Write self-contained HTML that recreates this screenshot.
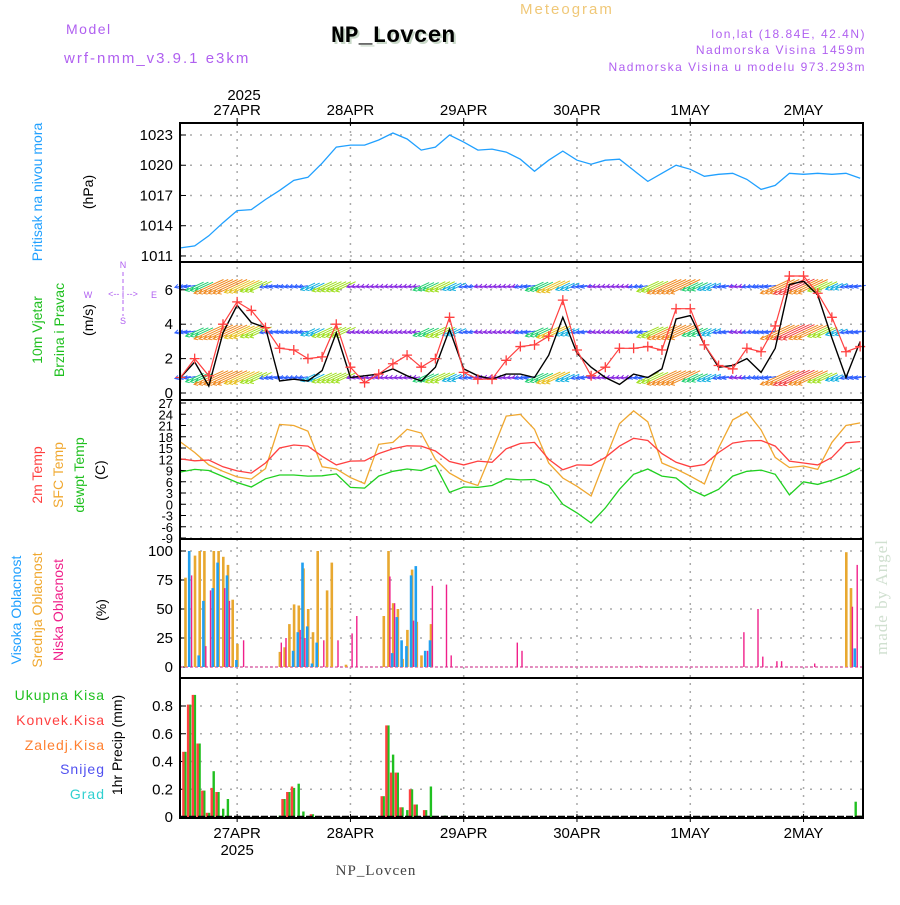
<!DOCTYPE html>
<html><head><meta charset="utf-8"><style>
html,body{margin:0;padding:0;background:#fff;}
</style></head><body>
<svg id="chart" xmlns="http://www.w3.org/2000/svg" width="900" height="900" viewBox="0 0 900 900" font-family="Liberation Sans, sans-serif">
<rect x="0" y="0" width="900" height="900" fill="#fff"/>
<g id="header">
<text x="66" y="34" font-size="14" fill="#b060f0" letter-spacing="1.5">Model</text>
<text x="64" y="63" font-size="15" fill="#b060f0" letter-spacing="2">wrf-nmm_v3.9.1 e3km</text>
<text x="333" y="44" font-size="23" font-weight="bold" fill="#c8d8c8" style="font-family:'Liberation Mono',monospace">NP_Lovcen</text>
<text x="331" y="42" font-size="23" font-weight="bold" fill="#000" style="font-family:'Liberation Mono',monospace">NP_Lovcen</text>
<text x="520" y="14" font-size="15" fill="#f0c878" letter-spacing="2">Meteogram</text>
<text x="866" y="38" font-size="12" fill="#b060f0" text-anchor="end" letter-spacing="1.5">lon,lat (18.84E, 42.4N)</text>
<text x="866" y="54" font-size="12" fill="#b060f0" text-anchor="end" letter-spacing="1.5">Nadmorska Visina 1459m</text>
<text x="866" y="71" font-size="12" fill="#b060f0" text-anchor="end" letter-spacing="1.5">Nadmorska Visina u modelu 973.293m</text>
<text x="244" y="100" font-size="15" fill="#000" text-anchor="middle">2025</text>
<text x="376" y="875" font-size="15" fill="#444" text-anchor="middle" style="font-family:'Liberation Serif',serif" letter-spacing="1">NP_Lovcen</text>
<text transform="translate(887,655) rotate(-90)" font-size="17" fill="#d0e0d0" style="font-family:'Liberation Serif',serif" letter-spacing="1">made by Angel</text>
</g>
<g id="ylabels">
<text transform="translate(42,192) rotate(-90)" font-size="14" fill="#20a0ff" text-anchor="middle">Pritisak na nivou mora</text>
<text transform="translate(93,192) rotate(-90)" font-size="14" fill="#000" text-anchor="middle">(hPa)</text>
<text transform="translate(42,330) rotate(-90)" font-size="14" fill="#20c020" text-anchor="middle">10m Vjetar</text>
<text transform="translate(64,330) rotate(-90)" font-size="14" fill="#20c020" text-anchor="middle">Brzina i Pravac</text>
<text transform="translate(93,320) rotate(-90)" font-size="14" fill="#000" text-anchor="middle">(m/s)</text>
<g fill="#b060f0" font-size="9">
<text x="123" y="268" text-anchor="middle">N</text>
<text x="123" y="324" text-anchor="middle">S</text>
<text x="88" y="298" text-anchor="middle">W</text>
<text x="154" y="298" text-anchor="middle">E</text>
<text x="123" y="297" text-anchor="middle">&lt;-- | --&gt;</text>
<line x1="123" y1="272" x2="123" y2="316" stroke="#b060f0" stroke-width="1" stroke-dasharray="4,3"/>
</g>
<text transform="translate(42,475) rotate(-90)" font-size="14" fill="#ff4040" text-anchor="middle">2m Temp</text>
<text transform="translate(63,475) rotate(-90)" font-size="14" fill="#f0a830" text-anchor="middle">SFC Temp</text>
<text transform="translate(84,475) rotate(-90)" font-size="14" fill="#20c020" text-anchor="middle">dewpt Temp</text>
<text transform="translate(105,470) rotate(-90)" font-size="14" fill="#000" text-anchor="middle">(C)</text>
<text transform="translate(21,610) rotate(-90)" font-size="14" fill="#20a0ff" text-anchor="middle">Visoka Oblacnost</text>
<text transform="translate(42,610) rotate(-90)" font-size="14" fill="#f0a830" text-anchor="middle">Srednja Oblacnost</text>
<text transform="translate(63,610) rotate(-90)" font-size="14" fill="#f0208a" text-anchor="middle">Niska Oblacnost</text>
<text transform="translate(106,610) rotate(-90)" font-size="14" fill="#000" text-anchor="middle">(%)</text>
<text x="105" y="700" font-size="14" fill="#20c020" text-anchor="end" letter-spacing="1">Ukupna  Kisa</text>
<text x="105" y="725" font-size="14" fill="#ff4040" text-anchor="end" letter-spacing="1">Konvek.Kisa</text>
<text x="105" y="750" font-size="14" fill="#ff8030" text-anchor="end" letter-spacing="1">Zaledj.Kisa</text>
<text x="105" y="774" font-size="14" fill="#5050f0" text-anchor="end" letter-spacing="1">Snijeg</text>
<text x="105" y="799" font-size="14" fill="#30d0d0" text-anchor="end" letter-spacing="1">Grad</text>
<text transform="translate(122,745) rotate(-90)" font-size="14" fill="#000" text-anchor="middle">1hr Precip (mm)</text>
</g>
<g id="grid"></g>
<g id="marks"></g>
<g id="frame"></g>
</svg>
<script>
// ---------- data (3-hourly from 26APR 12UTC, hour 0..144) ----------
const dayLabels = ["27APR","28APR","29APR","30APR","1MAY","2MAY"];
const dayHours = [12,36,60,84,108,132];
const pressure = [1011.8,1012.0,1013.0,1014.3,1015.5,1015.6,1016.6,1017.5,1018.5,1018.8,1020.2,1021.8,1022.0,1022.0,1022.5,1023.2,1022.6,1021.5,1021.8,1023.0,1022.3,1021.5,1021.6,1021.3,1020.6,1019.4,1020.5,1021.4,1020.5,1020.1,1020.5,1020.6,1019.5,1018.4,1019.2,1020.0,1019.6,1018.9,1019.1,1019.2,1018.6,1017.6,1018.0,1019.2,1019.1,1019.2,1019.1,1019.2,1018.7];
const windSpeed = [0.9,1.8,0.4,3.5,5.1,4.1,3.8,0.7,0.8,0.7,1.3,3.5,0.9,1.0,1.1,1.4,1.0,0.7,1.5,3.7,1.4,1.0,0.8,1.1,1.1,0.9,2.2,4.4,2.3,1.5,0.9,0.5,1.1,0.9,1.4,4.3,4.5,2.8,1.5,1.6,2.0,1.2,2.6,6.3,6.5,5.7,3.2,0.9,3.0];
const windGust = [0.9,2.0,1.0,4.0,5.3,4.8,3.8,2.6,2.5,2.0,2.1,4.0,1.5,0.6,1.1,1.7,2.2,1.5,2.0,4.4,1.2,0.8,0.8,1.9,2.7,2.8,3.3,5.4,2.5,1.0,1.5,2.6,2.6,2.7,2.5,4.9,4.9,2.8,1.6,1.4,2.6,2.4,3.9,6.8,6.8,5.8,4.4,2.4,2.7];
const arrowSpeed = [2,4,7,7,6,5,2,1.5,1.5,3,4.5,4.5,1,1,1,1,1,3.5,4.5,3,1.5,1,1,1,2,4,5.5,3,2,1,1,1,1.5,5,7,7,3.5,3,2,1,1.5,2,7,7.5,7,4.5,2.5,2,2];
const temp2m = [12.1,11.6,11.8,10.0,8.9,8.3,11.0,15.0,15.8,15.5,12.8,10.5,11.5,11.6,13.5,14.8,15.6,15.5,14.2,11.4,10.5,11.5,11.2,14.8,16.2,16.5,12.0,9.2,10.5,10.4,12.5,15.5,17.6,17.0,13.5,11.2,10.0,10.6,13.8,16.3,16.9,17.0,15.5,11.5,11.0,10.5,12.5,16.4,16.7];
const tempSfc = [16.6,13.8,10.5,8.8,7.3,6.7,9.5,21.3,21.0,19.5,10.0,9.4,7.1,5.5,16.0,16.5,20.0,19.0,12.0,8.3,6.2,5.0,14.0,23.5,24.0,20.0,11.0,7.0,4.8,2.2,12.0,21.5,24.9,22.0,11.0,9.4,7.5,5.4,15.0,22.5,24.6,19.8,12.5,9.8,10.2,9.3,16.5,21.0,21.7];
const dewpt = [8.6,9.3,9.0,7.4,5.8,4.6,6.8,7.8,7.8,7.5,7.6,8.1,4.5,4.3,7.5,8.8,9.4,9.0,10.4,3.2,4.6,4.5,5.0,6.8,6.5,6.6,5.0,0.0,-2.3,-5.0,-1.0,4.0,8.0,9.4,7.5,7.0,4.0,2.2,4.0,7.5,8.8,9.1,8.0,2.5,6.0,5.3,6.4,7.8,9.7];
// cloud cover (hourly bars, %)
const highHours = [2,4,5,7,8,10,12,24,25,26,27,28,29,45,46,47,48,49,50,52,53,143];
const highVals  = [100,10,57,68,90,79,6,14,30,90,35,3,21,12,43,23,18,79,87,14,23,16];
const midHours = [1,3,4,5,7,8,9,10,11,12,21,22,23,24,25,26,27,28,29,31,32,35,43,44,45,46,47,48,49,50,51,53,141,142];
const midVals  = [77,96,100,100,100,100,95,88,58,20,13,17,37,54,53,85,50,30,100,66,90,2,44,100,55,50,7,32,84,39,10,37,99,68];
const lowHours = [2,5,6,9,10,13,21,22,25,26,30,33,36,37,44,45,49,52,53,56,57,71,72,97,119,122,123,126,127,134,142,143];
const lowVals  = [79,18,66,68,57,23,21,25,32,25,23,23,29,44,78,55,40,14,70,71,10,21,14,1,30,50,9,5,5,3,52,88];
// precipitation (hourly, mm)
const rainHours = [1,2,3,4,5,6,7,8,9,10,21,22,23,24,25,26,28,43,44,45,46,47,48,49,50,52,53,56,143,144];
const rainTotal = [0.47,0.81,0.88,0.53,0.19,0.03,0.33,0.18,0.06,0.13,0.01,0.13,0.18,0.21,0.24,0.04,0.02,0.15,0.66,0.45,0.32,0.07,0.05,0.20,0.09,0.05,0.22,0.01,0.11,0.01];
const rainConv  = [0.47,0.81,0.88,0.53,0.19,0.03,0.21,0.18,0.0,0.0,0.0,0.13,0.18,0.22,0.0,0.0,0.02,0.15,0.66,0.32,0.32,0.07,0.0,0.20,0.09,0.05,0.0,0.0,0.0,0.01];
const pTicks = [1011,1014,1017,1020,1023];
const wTicks = [0,2,4,6];
const tTicks = [27,24,21,18,15,12,9,6,3,0,-3,-6,-9];
const cTicks = [0,25,50,75,100];
const rTicks = [0,0.2,0.4,0.6,0.8];

// ---------- axes ----------
const X0=180,X1=863;
const xh = h => 180.5 + h*4.72;
const pY = p => 135 + (1023-p)*10.08;
const wY = v => 393 - v*17.2;
const tY = t => 403 + (27-t)*3.75;
const cY = c => 667 - c*1.16;
const rY = m => 817 - m*138.75;
const panels = [[123,262],[262,400],[400,539],[539,678],[678,818]];

const NS="http://www.w3.org/2000/svg";
function mk(tag, attrs, parent){const e=document.createElementNS(NS,tag);for(const k in attrs)e.setAttribute(k,attrs[k]);parent.appendChild(e);return e;}
const grid=document.getElementById('grid'), marks=document.getElementById('marks'), frame=document.getElementById('frame');

function hgrid(ticks, fy, fmt, name, fs){
  ticks.forEach(v=>{
    const y=fy(v);
    const l=mk('line',{x1:X0,x2:X1,y1:y,y2:y,stroke:'#aaa','stroke-width':1.5,'stroke-dasharray':'2,8'},grid);
    
    
    const t=mk('text',{x:173,y:y+5,'font-size':fs||15,'text-anchor':'end',fill:'#000'},grid);
    t.textContent=fmt(v);
    
    
    mk('line',{x1:X0,x2:X0+6,y1:y,y2:y,stroke:'#000','stroke-width':1},grid);
  });
}
hgrid(pTicks,pY,v=>v,'pressure');
hgrid(wTicks,wY,v=>v,'wind');
hgrid(tTicks,tY,v=>v,'temp',13);
hgrid(cTicks,cY,v=>v,'cloud');
hgrid(rTicks,rY,v=>v===0?'0':v.toFixed(1),'precip');

dayHours.forEach((h,i)=>{
  const x=xh(h);
  const l=mk('line',{x1:x,x2:x,y1:123,y2:818,stroke:'#aaa','stroke-width':1.5,'stroke-dasharray':'2,6'},grid);
  
  
  const t1=mk('text',{x:x,y:115,'font-size':15,'text-anchor':'middle',fill:'#000'},grid);
  t1.textContent=dayLabels[i];
  
  
  const t2=mk('text',{x:x,y:838,'font-size':15,'text-anchor':'middle',fill:'#000'},grid);
  t2.textContent=dayLabels[i];
  
  
  mk('line',{x1:x,x2:x,y1:118,y2:126,stroke:'#000','stroke-width':1},grid);
  mk('line',{x1:x,x2:x,y1:814,y2:822,stroke:'#000','stroke-width':1},grid);
});
const yb=mk('text',{x:xh(12),y:855,'font-size':15,'text-anchor':'middle',fill:'#000'},grid);
yb.textContent='2025';



// ---------- series ----------
function line(arr, fy, color, name, w){
  const d=arr.map((v,i)=>(i?'L':'M')+xh(i*3).toFixed(1)+','+fy(v).toFixed(1)).join(' ');
  const p=mk('path',{d:d,fill:'none',stroke:color,'stroke-width':w||1.3},marks);
  
  
}
line(pressure,pY,'#20a0ff','pressure-line');

// wind arrows
function spdColor(s){
  if(s<1.5)return '#8a2be2';
  if(s<2.5)return '#3060ff';
  if(s<3.5)return '#10b0e0';
  if(s<4.5)return '#20d070';
  if(s<5.5)return '#a0e020';
  if(s<6.5)return '#e8c020';
  if(s<7.2)return '#f08a20';
  if(s<8)return '#f04040';
  return '#e020a0';
}
const rowLevels=[6.2,3.55,0.9];
rowLevels.forEach((lv,ri)=>{
  arrowSpeed.forEach((s,i)=>{
    for(let k=0;k<3;k++){
      const h=i*3+k; if(h>144)break;
      const L=3+s*4.2;
      const a=(s<2.5?190:205)*Math.PI/180;
      const dx=L*Math.cos(a), dy=-L*Math.sin(a);
      const cx=xh(h), cy=wY(lv);
      const x1=cx-dx/2,y1=cy-dy/2,x2=cx+dx/2,y2=cy+dy/2;
      const col=spdColor(s);
      const g=mk('path',{d:`M${x1.toFixed(1)},${y1.toFixed(1)} L${x2.toFixed(1)},${y2.toFixed(1)} M${(x2+3).toFixed(1)},${(y2-3).toFixed(1)} L${x2.toFixed(1)},${y2.toFixed(1)} L${(x2+4).toFixed(1)},${(y2+1).toFixed(1)}`,stroke:col,'stroke-width':1,fill:'none'},marks);
      
      
    }
  });
});
line(windSpeed,wY,'#000','wind-speed-line',1.4);
line(windGust,wY,'#ff4040','wind-gust-line',1.2);
windGust.forEach((v,i)=>{
  const x=xh(i*3),y=wY(v);
  const m=mk('path',{d:`M${x-5},${y} L${x+5},${y} M${x},${y-5} L${x},${y+5}`,stroke:'#ff4040','stroke-width':1.3},marks);
  
  
});

line(tempSfc,tY,'#f0a830','sfc-temp-line');
line(temp2m,tY,'#ff4040','2m-temp-line');
line(dewpt,tY,'#20d020','dewpoint-line');

// cloud bars
const cb=mk('line',{x1:X0,x2:X1,y1:cY(0),y2:cY(0),stroke:'#e070b0','stroke-width':1.5,'stroke-dasharray':'3,2'},marks);


function bars(hours, vals, fy, color, off, w, name){
  hours.forEach((h,i)=>{
    const y=fy(vals[i]), y0=fy(0);
    const r=mk('rect',{x:(xh(h)+off).toFixed(1),y:y.toFixed(1),width:w,height:Math.max(0,y0-y).toFixed(1),fill:color},marks);
    
    
  });
}
bars(midHours,midVals,cY,'#e8a830',-1,2.6,'mid-cloud-bar');
bars(highHours,highVals,cY,'#20a0f0',-2,2.6,'high-cloud-bar');
bars(lowHours,lowVals,cY,'#f0208a',1,1.4,'low-cloud-bar');

// precip bars
bars(rainHours,rainTotal,rY,'#20c020',-1,2.4,'total-rain-bar');
bars(rainHours,rainConv,rY,'#ff4040',-3,2.4,'convective-rain-bar');
const zb=mk('line',{x1:X0,x2:X1,y1:rY(0),y2:rY(0),stroke:'#000','stroke-width':2.5,'stroke-dasharray':'7,2'},marks);



// frames
panels.forEach((p,i)=>{
  const r=mk('rect',{x:X0,y:p[0],width:X1-X0,height:p[1]-p[0],fill:'none',stroke:'#000','stroke-width':2},frame);
  
  
});
</script>
</body></html>
